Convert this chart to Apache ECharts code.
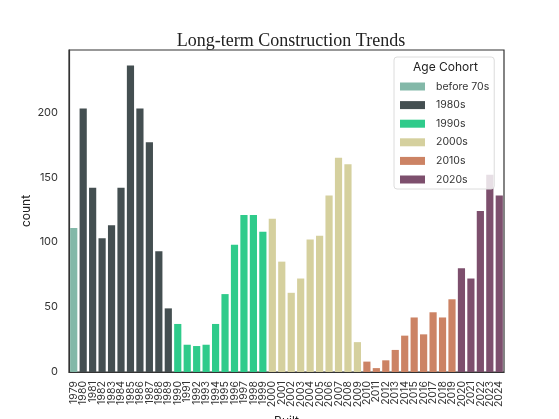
<!DOCTYPE html>
<html>
<head>
<meta charset="utf-8">
<script src="https://cdn.jsdelivr.net/npm/echarts@6/dist/echarts.min.js"></script>
<style>
html,body{margin:0;padding:0;background:#fff;}
#chart{width:559px;height:419px;}
</style>
</head>
<body>
<div id="chart"></div>
<script>
const years = ['1979','1980','1981','1982','1983','1984','1985','1986','1987','1988','1989',
  '1990','1991','1992','1993','1994','1995','1996','1997','1998','1999',
  '2000','2001','2002','2003','2004','2005','2006','2007','2008','2009',
  '2010','2011','2012','2013','2014','2015','2016','2017','2018','2019',
  '2020','2021','2022','2023','2024'];
const counts = [111,203,142,103,113,142,236,203,177,93,49,
  37,21,20,21,37,60,98,121,121,108,
  118,85,61,72,102,105,136,165,160,23,
  8,3,9,17,28,42,29,46,42,56,
  80,72,124,152,136];
const cohortNames = ['before 70s','1980s','1990s','2000s','2010s','2020s'];
const cohortColors = ['#83b8a8','#444f51','#2fcb8b','#d5d09e','#cc8364','#7d4f6d'];
const yearCohort = [0,1,1,1,1,1,1,1,1,1,1,
  2,2,2,2,2,2,2,2,2,2,
  3,3,3,3,3,3,3,3,3,3,
  4,4,4,4,4,4,4,4,4,4,
  5,5,5,5,5];
const yTicks = [0,50,100,150,200];

const series = cohortNames.map((name, ci) => ({
  name: name,
  type: 'bar',
  stack: 'all',
  barWidth: '76%',
  itemStyle: {color: cohortColors[ci]},
  data: counts.map((v, i) => yearCohort[i] === ci ? v : null)
}));

const chart = echarts.init(document.getElementById('chart'), null, {renderer: 'canvas'});
chart.setOption({
  animation: false,
  backgroundColor: '#fff',
  textStyle: {fontFamily: 'Inter'},
  title: {
    text: 'Long-term Construction Trends',
    left: 286, textAlign: 'center', top: 27,
    textStyle: {fontFamily: 'Liberation Serif', fontSize: 18, fontWeight: 'normal', color: '#222'}
  },
  grid: {left: 69, right: 55, top: 50, bottom: 47, containLabel: false, outerBoundsMode: 'none',
    show: true, borderColor: '#333', borderWidth: 1.2, backgroundColor: 'transparent'},
  legend: {
    data: cohortNames,
    orient: 'vertical',
    left: 394, top: 57,
    itemWidth: 25, itemHeight: 8, itemGap: 7.6,
    padding: [24, 5, 4, 6],
    backgroundColor: 'rgba(255,255,255,0.82)',
    borderColor: '#dcdcdc', borderWidth: 1, borderRadius: 3,
    icon: 'rect',
    z: 10,
    textStyle: {fontFamily: 'Inter', fontSize: 10.5, color: '#333', padding: [0,0,0,6]}
  },
  graphic: [{
    type: 'text', left: 413, top: 61, z: 100,
    style: {text: 'Age Cohort', fontFamily: 'Inter', fontSize: 12, fill: '#222'}
  }],
  xAxis: {
    type: 'category',
    data: years,
    name: 'Built',
    nameLocation: 'middle',
    nameGap: 43,
    nameMoveOverlap: false,
    nameTextStyle: {fontFamily: 'Inter', fontSize: 12, color: '#222'},
    axisLine: {show: true, lineStyle: {color: '#333', width: 1.2}},
    axisTick: {show: false},
    axisLabel: {rotate: 90, interval: 0, fontSize: 10.5, color: '#333', margin: 9}
  },
  yAxis: {
    type: 'value',
    min: 0, max: 248, interval: 50,
    name: 'count',
    nameLocation: 'middle',
    nameGap: 37,
    nameMoveOverlap: false,
    nameTextStyle: {fontFamily: 'Inter', fontSize: 12, color: '#222'},
    axisLine: {show: true, lineStyle: {color: '#333', width: 1.2}},
    axisTick: {show: false},
    splitLine: {show: false},
    axisLabel: {
      fontSize: 11, color: '#333', margin: 11, showMaxLabel: false,
      formatter: v => yTicks.indexOf(v) >= 0 ? String(v) : ''
    }
  },
  series: series
});
</script>
</body>
</html>
